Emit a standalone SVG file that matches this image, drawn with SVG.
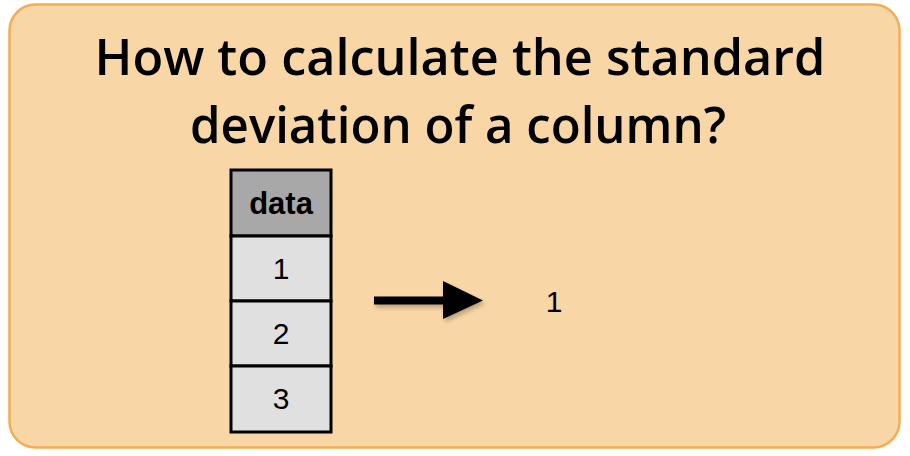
<svg xmlns="http://www.w3.org/2000/svg" width="910" height="456" viewBox="0 0 910 456">
<style>
.title{font-family:"Open Sans","DejaVu Sans",sans-serif;font-size:51px;font-weight:600;fill:#000;text-anchor:middle}
.cell{stroke:#000;stroke-width:3}
.hdr{fill:#A8A8A8}
.row{fill:#E0E0E0}
.t{font-family:"Liberation Sans",Arial,sans-serif;font-size:30px;fill:#000;text-anchor:middle}
.b{font-weight:bold;font-size:31px}
</style>
<defs>
<filter id="sh" x="-20%" y="-20%" width="140%" height="160%">
<feDropShadow dx="2" dy="3" stdDeviation="2" flood-color="#000" flood-opacity="0.25"/>
</filter>
</defs>
<g id="background">
<rect x="9.5" y="4.5" width="890" height="443" rx="26" ry="26" fill="#F8D6A6" stroke="#F2AD55" stroke-width="2.5"/>
</g>
<g id="title">
<text class="title" x="460" y="75" textLength="731" lengthAdjust="spacingAndGlyphs">How to calculate the standard</text>
<text class="title" x="458" y="143" textLength="536" lengthAdjust="spacingAndGlyphs">deviation of a column?</text>
</g>
<g id="table">
<g id="header"><rect class="cell hdr" x="231" y="170" width="100" height="66"/><text class="t b" x="281" y="214">data</text></g>
<g id="row1"><rect class="cell row" x="231" y="236" width="100" height="65"/><text class="t" x="281" y="279">1</text></g>
<g id="row2"><rect class="cell row" x="231" y="301" width="100" height="65"/><text class="t" x="281" y="344">2</text></g>
<g id="row3"><rect class="cell row" x="231" y="366" width="100" height="66"/><text class="t" x="281" y="409">3</text></g>
</g>
<g id="connectors">
<g filter="url(#sh)">
<line x1="374" y1="300.5" x2="446" y2="300.5" stroke="#000" stroke-width="8"/>
<polygon points="443,281 483,300.5 443,319" fill="#000"/>
</g>
</g>
<g id="result">
<text class="t" x="554" y="312">1</text>
</g>
</svg>
